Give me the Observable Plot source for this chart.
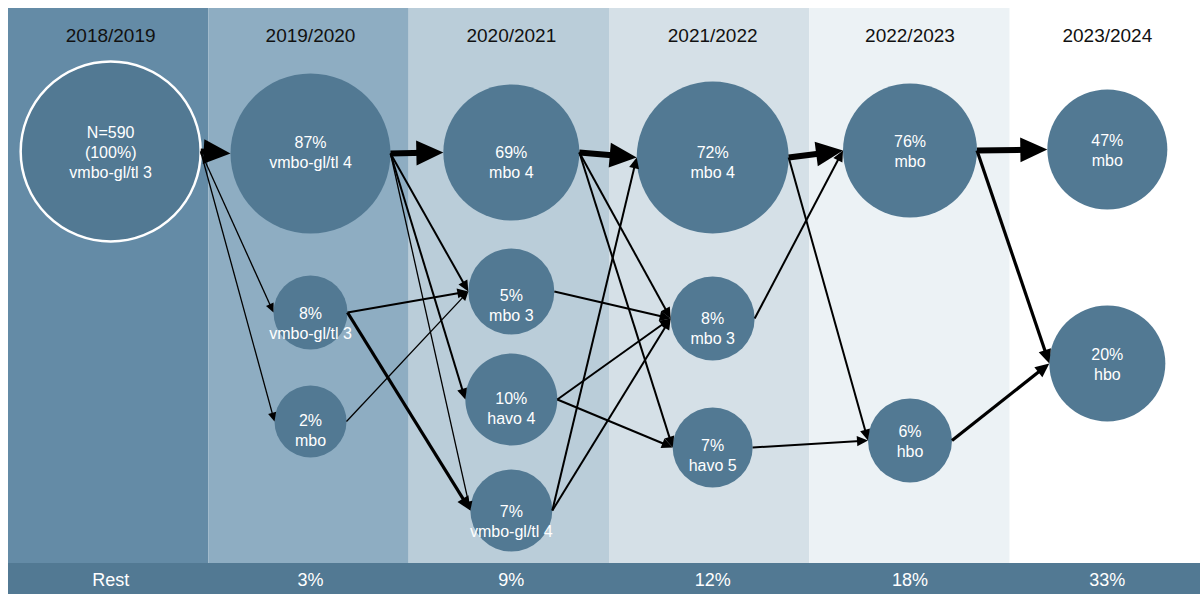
<!DOCTYPE html>
<html><head><meta charset="utf-8">
<script src="https://cdn.jsdelivr.net/npm/d3@7"></script>
<script src="https://cdn.jsdelivr.net/npm/@observablehq/plot@0.6"></script>
<style>
html,body{margin:0;padding:0;background:#fff;}
#chart svg{display:block;}
</style>
</head><body><div id="chart"></div>
<script>
// ---------------- DATA ----------------
const years = ["2018/2019","2019/2020","2020/2021","2021/2022","2022/2023","2023/2024"];
const restLabels = ["Rest","3%","9%","12%","18%","33%"];

const nodeColumns = [0, 1, 1, 1, 2, 2, 2, 2, 3, 3, 3, 4, 4, 5, 5];
const nodeLabels = [
  "N=590\n(100%)\nvmbo-gl/tl 3",
  "87%\nvmbo-gl/tl 4",
  "8%\nvmbo-gl/tl 3",
  "2%\nmbo",
  "69%\nmbo 4",
  "5%\nmbo 3",
  "10%\nhavo 4",
  "7%\nvmbo-gl/tl 4",
  "72%\nmbo 4",
  "8%\nmbo 3",
  "7%\nhavo 5",
  "76%\nmbo",
  "6%\nhbo",
  "47%\nmbo",
  "20%\nhbo"
];

// flows: source node index, target node index, flow class
const edgeFrom  = [0, 0, 0, 1, 1, 1, 1, 2, 2, 3, 4, 4, 4, 5, 6, 6, 7, 7, 8, 8, 9, 10, 11, 11, 12];
const edgeTo    = [1, 2, 3, 4, 5, 6, 7, 5, 7, 5, 8, 9, 10, 9, 9, 10, 8, 9, 11, 12, 11, 12, 13, 14, 14];
const edgeClass = ["major","minor","minor","major","small","small","minor","small","medium","minor",
                   "major","small","small","small","small","small","small","small",
                   "major","small","small","small","major","medium","medium"];

// ---------------- LAYOUT / STYLE ----------------
const columnDx = [2, 1.5, 2, 3, 0, -3];   // small per-column pixel nudges of the circle centres
const nodeY   = [151, 153, 312, 421, 152, 291, 399, 510, 157, 318, 447, 150, 440, 149, 363];
const nodeR   = [ 90,  80,  37,  36,  68,  43,  46,  41,  76,  42,  40,  67,  42,  60,  58];
const labelDy = [  0,  -2,  10,   8,   9,  13,   8,  10,   4,   9,   7,   0,   0,   0,   0];
const bandFills = ["#648ba6","#8eadc2","#bacdd9","#d5e0e7","#ecf2f5","#ffffff"];
const classWidth = {major: 6, medium: 3.2, small: 2, minor: 1.3};
const classHead  = {major: 27, medium: 14, small: 11, minor: 9};
const nodeFill = "#527993";
const XDOM = [-0.5, 5.5], XRANGE = [8, 1210];
const BAND_TOP = 8, BAND_BOTTOM = 563, STRIP_BOTTOM = 594;
const HEADER_Y = 35, REST_Y = 580;

// ---------------- BUILD ----------------
const xs = d3.scaleLinear().domain(XDOM).range(XRANGE);
const ppu = (XRANGE[1] - XRANGE[0]) / (XDOM[1] - XDOM[0]);
const nodes = nodeColumns.map((c, i) => ({
  cx: c + columnDx[c] / ppu, y: nodeY[i], r: nodeR[i], label: nodeLabels[i], ly: nodeY[i] + labelDy[i]
}));
const edges = edgeFrom.map((s, i) => {
  const a = nodes[s], b = nodes[edgeTo[i]];
  const sx = xs(a.cx) + a.r, sy = a.y;
  const tx = xs(b.cx) - b.r, ty = b.y;
  const dx = tx - sx, dy = ty - sy, len = Math.hypot(dx, dy);
  const ux = dx / len, uy = dy / len;
  const L = classHead[edgeClass[i]];
  const ex = tx - ux * L * 0.7, ey = ty - uy * L * 0.7;
  return {
    x1: xs.invert(sx), y1: sy, x2: xs.invert(ex), y2: ey,
    tx: xs.invert(tx), ty, L,
    rot: Math.atan2(dy, dx) * 180 / Math.PI + 90,
    sw: classWidth[edgeClass[i]]
  };
});
const arrowHead = {
  draw(ctx, size) {
    const L = Math.sqrt(size / Math.PI), W = L * 0.46;
    ctx.moveTo(0, 0); ctx.lineTo(-W, L); ctx.lineTo(W, L); ctx.closePath();
  }
};
const bands = years.map((y, i) => ({i, fill: bandFills[i]}));
const FONT = "Liberation Sans, Arial, Helvetica, sans-serif";

const chart = Plot.plot({
  width: 1200, height: 594,
  marginTop: 0, marginBottom: 0, marginLeft: 0, marginRight: 0,
  x: {domain: XDOM, range: XRANGE, axis: null},
  y: {domain: [0, 594], range: [0, 594], axis: null},
  r: {type: "identity"},
  color: {type: "identity"},
  style: {fontFamily: FONT, background: "#fff"},
  marks: [
    Plot.rect(bands, {x1: d => d.i - 0.5, x2: d => d.i + 0.5, y1: BAND_TOP, y2: BAND_BOTTOM, fill: "fill"}),
    Plot.rect([0], {x1: XDOM[0], x2: XDOM[1], y1: BAND_BOTTOM, y2: STRIP_BOTTOM, fill: nodeFill}),
    Plot.dot(nodes, {x: "cx", y: "y", r: "r", fill: nodeFill}),
    Plot.dot(nodes.slice(0, 1), {x: "cx", y: "y", r: "r", fill: "none", stroke: "white", strokeWidth: 2.5}),
    Plot.link(edges, {x1: "x1", y1: "y1", x2: "x2", y2: "y2", stroke: "black", strokeWidth: "sw"}),
    Plot.dot(edges, {x: "tx", y: "ty", r: "L", rotate: "rot", symbol: arrowHead, fill: "black", stroke: "none"}),
    Plot.text(nodes, {x: "cx", y: "ly", text: "label", fill: "white", fontSize: 16, lineHeight: 1.25, fontFamily: FONT}),
    Plot.text(years, {x: (d, i) => i + columnDx[i] / ppu, y: HEADER_Y, text: d => d, fill: "#111", fontSize: 19, fontFamily: FONT}),
    Plot.text(restLabels, {x: (d, i) => i + columnDx[i] / ppu, y: REST_Y, text: d => d, fill: "white", fontSize: 18, fontFamily: FONT})
  ]
});
document.getElementById("chart").appendChild(chart);
</script>
</body></html>
